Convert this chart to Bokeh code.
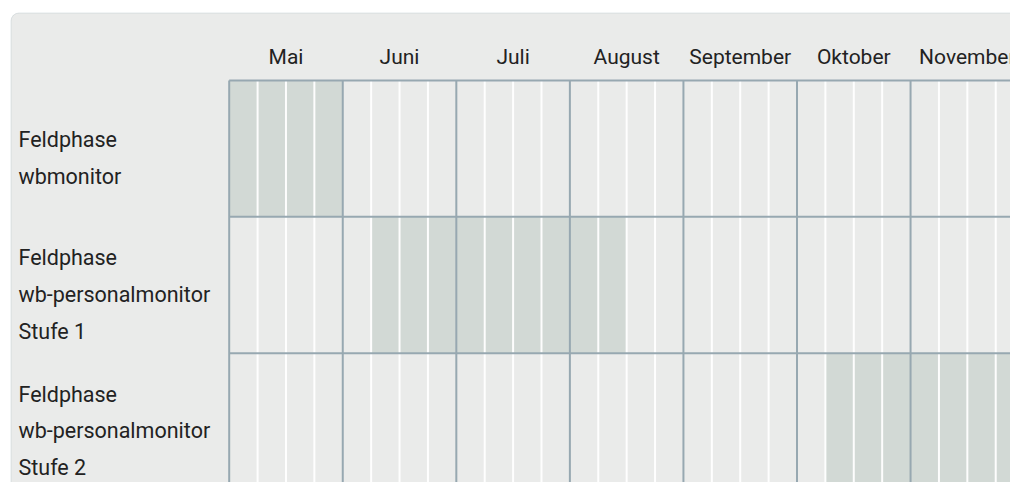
from bokeh.plotting import figure
from bokeh.models import Range1d, BoxAnnotation
from bokeh.core.properties import value
from bokeh.embed import file_html
from bokeh.resources import INLINE

# ---- data ----
months = ["Mai", "Juni", "Juli", "August", "September", "Oktober", "November"]
weeks_per_month = 4
tasks = [
    "Feldphase\nwbmonitor",
    "Feldphase\nwb-personalmonitor\nStufe 1",
    "Feldphase\nwb-personalmonitor\nStufe 2",
]
# field phases in weeks counted from the first week of May (end exclusive)
phase_start_week = [0, 5, 21]
phase_end_week = [4, 14, 28]

# ---- layout ----
FONT = "Roboto"
W, H = 1010, 482
WEEK_PX = 28.39
ROW_PX = 136.35
GRID_LEFT = 228.7   # canvas px of grid start
GRID_TOP = 80.0     # canvas px of grid top
LINE_PX = 36.8
LABEL_LEFT = 18.0

xs = -GRID_LEFT / WEEK_PX
xe = xs + W / WEEK_PX
yt = -GRID_TOP / ROW_PX
yb = yt + H / ROW_PX

p = figure(width=W, height=H, x_range=Range1d(xs, xe), y_range=Range1d(yb, yt),
           output_backend="svg", toolbar_location=None, min_border=0,
           x_axis_location=None, y_axis_location=None,
           background_fill_color="white", border_fill_color="white",
           outline_line_color=None)
p.grid.visible = False

panel = BoxAnnotation(left=xs + 10.5 / WEEK_PX, right=xe + 3,
                      top=yt + 12.5 / ROW_PX, bottom=yb + 3,
                      fill_color="#EAEBEA", fill_alpha=1.0,
                      line_color="#A3B2BA", line_width=1,
                      border_radius=8, level="underlay")
p.add_layout(panel)

n_rows = len(tasks)
n_weeks = len(months) * weeks_per_month
rows = list(range(n_rows))

p.quad(left=phase_start_week, right=phase_end_week, top=rows,
       bottom=[r + 1 for r in rows], fill_color="#D2D9D5", line_color=None)

week_x = [w for w in range(1, n_weeks) if w % weeks_per_month]
p.segment(x0=week_x, y0=0, x1=week_x, y1=n_rows, line_color="white",
          line_width=2, line_alpha=0.95)
month_x = [m * weeks_per_month for m in range(len(months) + 1)]
p.segment(x0=month_x, y0=0, x1=month_x, y1=n_rows, line_color="#97A8B1",
          line_width=2)
row_y = list(range(n_rows + 1))
p.segment(x0=0, y0=row_y, x1=n_weeks, y1=row_y, line_color="#97A8B1",
          line_width=2)

p.text(x=[m * weeks_per_month + weeks_per_month / 2 for m in range(len(months))],
       y=0, text=months, text_align="center", text_baseline="alphabetic",
       y_offset=-23.5, text_font=value(FONT), text_font_size="21px",
       text_color="#222222")

lab_y, lab_text, lab_off = [], [], []
for r, t in enumerate(tasks):
    lines = t.split("\n")
    n = len(lines)
    for i, ln in enumerate(lines):
        lab_y.append(r + 0.5)
        lab_text.append(ln)
        lab_off.append((i - (n - 1) / 2) * LINE_PX + 9.5)

p.text(x=0, y=lab_y, text=lab_text, x_offset=-(GRID_LEFT - LABEL_LEFT),
       y_offset=lab_off, text_align="left", text_baseline="alphabetic",
       text_font=value(FONT), text_font_size="21.5px", text_color="#222222")

open("out.html", "w").write(file_html(p, INLINE))
